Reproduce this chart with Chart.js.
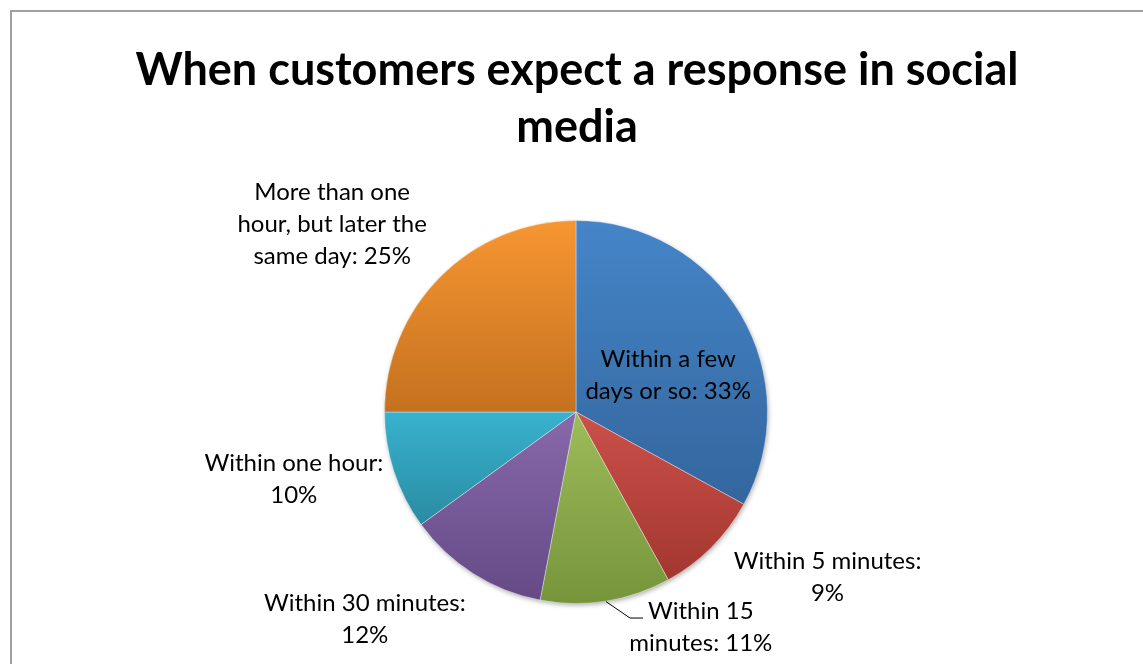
<!DOCTYPE html>
<html>
<head>
<meta charset="utf-8">
<title>When customers expect a response in social media</title>
<script src="https://cdn.jsdelivr.net/npm/chart.js@4.4.0/dist/chart.umd.min.js"></script>
<style>
  html, body { margin: 0; padding: 0; background: #fff; overflow: hidden; }
  #chart { display: block; }
</style>
</head>
<body>
<canvas id="chart" width="1143" height="664"></canvas>
<script>
(function () {
  'use strict';

  const TITLE_LINES = ['When customers expect a response in social', 'media'];
  const CATEGORIES = [
    'Within a few days or so',
    'Within 5 minutes',
    'Within 15 minutes',
    'Within 30 minutes',
    'Within one hour',
    'More than one hour, but later the same day'
  ];
  const SHARES = [33, 9, 11, 12, 10, 25];

  // top / bottom colours of each slice's vertical gradient
  const TOP_COLORS = ['#4585c8', '#cc504a', '#9dbc5a', '#8869ab', '#38b2ce', '#f79632'];
  const BOTTOM_COLORS = ['#33669e', '#a2372f', '#76943a', '#654a86', '#2a8ba2', '#c4711f'];

  // label placement, relative to the pie centre in radius units, plus wrap width
  const LABEL_PLACE = [
    { dx: 0.48, dy: -0.19, wrap: 176 },
    { dx: 1.31, dy: 0.86, wrap: 205 },
    { dx: 0.65, dy: 1.12, wrap: 152, leader: true },
    { dx: -1.10, dy: 1.08, wrap: 222 },
    { dx: -1.47, dy: 0.35, wrap: 195 },
    { dx: -1.27, dy: -0.98, wrap: 208 }
  ];

  const FONT = 'Lato, "Open Sans", sans-serif';
  const LABEL_SIZE = 24;
  const TITLE_SIZE = 45;
  const LINE_H = 32;

  function pieGeometry(chart) {
    const a = chart.chartArea;
    return {
      cx: (a.left + a.right) / 2,
      cy: (a.top + a.bottom) / 2,
      r: Math.min(a.right - a.left, a.bottom - a.top) / 2
    };
  }

  function sliceAngles(i) {
    const total = SHARES.reduce((s, v) => s + v, 0);
    let before = 0;
    for (let j = 0; j < i; j++) before += SHARES[j];
    const a0 = -Math.PI / 2 + (before / total) * Math.PI * 2;
    const a1 = a0 + (SHARES[i] / total) * Math.PI * 2;
    return [a0, a1];
  }

  function sliceFill(ctx) {
    const chart = ctx.chart;
    const i = ctx.dataIndex;
    if (!chart.chartArea || i === undefined) return TOP_COLORS[i || 0];
    const g = pieGeometry(chart);
    const [a0, a1] = sliceAngles(i);
    const ys = [g.cy, g.cy + g.r * Math.sin(a0), g.cy + g.r * Math.sin(a1)];
    [-Math.PI / 2, Math.PI / 2, Math.PI * 1.5].forEach((ang) => {
      if (ang > a0 && ang < a1) ys.push(g.cy + g.r * Math.sin(ang));
    });
    const top = Math.min(...ys);
    const bottom = Math.max(...ys);
    const grad = chart.ctx.createLinearGradient(0, top, 0, bottom);
    grad.addColorStop(0, TOP_COLORS[i]);
    grad.addColorStop(1, BOTTOM_COLORS[i]);
    return grad;
  }

  function wrapText(ctx, text, maxW) {
    const words = text.split(' ');
    const lines = [];
    let line = '';
    words.forEach((w) => {
      const test = line ? line + ' ' + w : w;
      if (line && ctx.measureText(test).width > maxW) {
        lines.push(line);
        line = w;
      } else {
        line = test;
      }
    });
    if (line) lines.push(line);
    return lines;
  }

  const decorPlugin = {
    id: 'decor',
    beforeDraw(chart) {
      const ctx = chart.ctx;
      ctx.save();
      ctx.fillStyle = '#ffffff';
      ctx.fillRect(0, 0, chart.width, chart.height);
      ctx.strokeStyle = '#a0a0a0';
      ctx.lineWidth = 2;
      ctx.strokeRect(11, 11, chart.width + 20, chart.height + 20);

      ctx.fillStyle = '#000000';
      ctx.font = 'bold ' + TITLE_SIZE + 'px ' + FONT;
      ctx.textAlign = 'center';
      ctx.textBaseline = 'middle';
      TITLE_LINES.forEach((t, k) => ctx.fillText(t, 577, 70 + k * 57));
      ctx.restore();
    },
    beforeDatasetsDraw(chart) {
      const ctx = chart.ctx;
      const g = pieGeometry(chart);
      ctx.save();
      ctx.shadowColor = 'rgba(0, 0, 0, 0.35)';
      ctx.shadowBlur = 5;
      ctx.shadowOffsetX = 1;
      ctx.shadowOffsetY = 2;
      ctx.fillStyle = '#ffffff';
      ctx.beginPath();
      ctx.arc(g.cx, g.cy, g.r - 1, 0, Math.PI * 2);
      ctx.fill();
      ctx.restore();
    },
    afterDatasetsDraw(chart) {
      const ctx = chart.ctx;
      const g = pieGeometry(chart);
      ctx.save();
      ctx.font = LABEL_SIZE + 'px ' + FONT;
      ctx.fillStyle = '#000000';
      ctx.textAlign = 'center';
      ctx.textBaseline = 'middle';
      CATEGORIES.forEach((cat, i) => {
        const p = LABEL_PLACE[i];
        const text = cat + ': ' + SHARES[i] + '%';
        const lines = wrapText(ctx, text, p.wrap);
        const x = g.cx + p.dx * g.r;
        const y = g.cy + p.dy * g.r;
        const y0 = y - ((lines.length - 1) * LINE_H) / 2;
        lines.forEach((l, k) => ctx.fillText(l, x, y0 + k * LINE_H));

        if (p.leader) {
          const [a0, a1] = sliceAngles(i);
          const mid = (a0 + a1) / 2;
          const sx = g.cx + Math.cos(mid) * g.r;
          const sy = g.cy + Math.sin(mid) * g.r;
          const w = ctx.measureText(lines[0]).width;
          const ex = x - w / 2 - 5;
          const ey = y0 + 7;
          ctx.strokeStyle = '#000000';
          ctx.lineWidth = 1;
          ctx.beginPath();
          ctx.moveTo(sx, sy);
          ctx.lineTo(ex - 13, ey);
          ctx.lineTo(ex, ey);
          ctx.stroke();
        }
      });
      ctx.restore();
    }
  };

  function boot() {
    const canvas = document.getElementById('chart');
    new Chart(canvas.getContext('2d'), {
      type: 'pie',
      data: {
        labels: CATEGORIES,
        datasets: [{
          data: SHARES,
          backgroundColor: sliceFill,
          borderColor: 'rgba(255, 255, 255, 0.35)',
          borderWidth: 1
        }]
      },
      options: {
        responsive: false,
        animation: false,
        devicePixelRatio: 1,
        layout: {
          padding: { left: 384, top: 220, right: 375, bottom: 60 }
        },
        plugins: {
          legend: { display: false },
          title: { display: false },
          tooltip: { enabled: false }
        }
      },
      plugins: [decorPlugin]
    });
  }

  if (document.fonts && document.fonts.load) {
    Promise.all([
      document.fonts.load(LABEL_SIZE + 'px Lato'),
      document.fonts.load('bold ' + TITLE_SIZE + 'px Lato')
    ]).then(boot, boot);
  } else {
    boot();
  }
})();
</script>
</body>
</html>
